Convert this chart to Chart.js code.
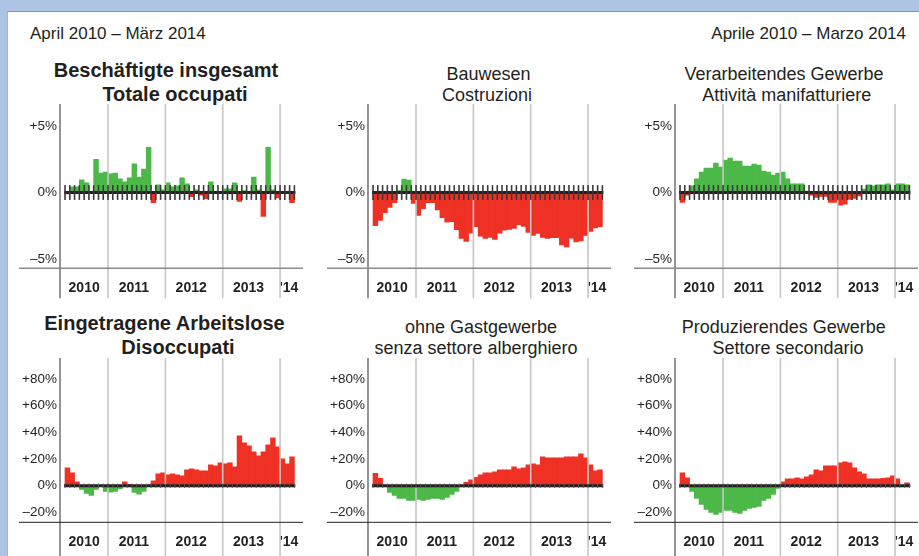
<!DOCTYPE html>
<html>
<head>
<meta charset="utf-8">
<script src="https://cdn.jsdelivr.net/npm/chart.js@4.4.1/dist/chart.umd.min.js"></script>
<style>
html,body{margin:0;padding:0;}
body{width:919px;height:556px;overflow:hidden;background:#aec4e4;position:relative;font-family:"Liberation Sans",Arial,Helvetica,sans-serif;color:#231f20;}
#frame{position:absolute;left:7px;top:11px;width:920px;height:560px;background:#fff;border-top:1px solid #6a9fd4;border-left:1px solid #9cb7dc;box-sizing:border-box;}
.t{position:absolute;white-space:nowrap;line-height:1;width:400px;text-align:center;}
.h{font-size:17px;}
.r{font-size:18px;}
.b{font-size:20px;font-weight:bold;}
canvas{position:absolute;}
</style>
</head>
<body>
<div id="frame"></div>
<div class="t h" style="left:30px;top:24.6px;text-align:left;">April 2010 – März 2014</div>
<div class="t h" style="left:506px;top:24.6px;text-align:right;">Aprile 2010 – Marzo 2014</div>

<div class="t b" style="left:-34px;top:60.4px;">Beschäftigte insgesamt</div>
<div class="t b" style="left:-25px;top:83.8px;">Totale occupati</div>
<div class="t r" style="left:288.5px;top:64.8px;">Bauwesen</div>
<div class="t r" style="left:287px;top:85.8px;">Costruzioni</div>
<div class="t r" style="left:584px;top:64.8px;">Verarbeitendes Gewerbe</div>
<div class="t r" style="left:586.7px;top:85.8px;">Attività manifatturiere</div>

<div class="t b" style="left:-35.5px;top:313.1px;">Eingetragene Arbeitslose</div>
<div class="t b" style="left:-22px;top:337.1px;">Disoccupati</div>
<div class="t r" style="left:281px;top:317.8px;">ohne Gastgewerbe</div>
<div class="t r" style="left:276px;top:338.8px;">senza settore alberghiero</div>
<div class="t r" style="left:583.7px;top:317.8px;">Produzierendes Gewerbe</div>
<div class="t r" style="left:588px;top:338.8px;">Settore secondario</div>

<canvas id="c1" width="300" height="207" style="left:12px;top:93px;"></canvas>
<canvas id="c2" width="300" height="207" style="left:320px;top:93px;"></canvas>
<canvas id="c3" width="300" height="207" style="left:627px;top:93px;"></canvas>
<canvas id="c4" width="300" height="209" style="left:12px;top:347px;"></canvas>
<canvas id="c5" width="300" height="209" style="left:320px;top:347px;"></canvas>
<canvas id="c6" width="300" height="209" style="left:627px;top:347px;"></canvas>

<script>
// ---- categories (April 2010 – March 2014) ----
const months = [
 'Apr 2010','Mai 2010','Jun 2010','Jul 2010','Aug 2010','Sep 2010','Okt 2010','Nov 2010','Dez 2010',
 'Jan 2011','Feb 2011','Mär 2011','Apr 2011','Mai 2011','Jun 2011','Jul 2011','Aug 2011','Sep 2011','Okt 2011','Nov 2011','Dez 2011',
 'Jan 2012','Feb 2012','Mär 2012','Apr 2012','Mai 2012','Jun 2012','Jul 2012','Aug 2012','Sep 2012','Okt 2012','Nov 2012','Dez 2012',
 'Jan 2013','Feb 2013','Mär 2013','Apr 2013','Mai 2013','Jun 2013','Jul 2013','Aug 2013','Sep 2013','Okt 2013','Nov 2013','Dez 2013',
 'Jan 2014','Feb 2014','Mär 2014'
];
// ---- year tick labels (positions in month units) ----
const yearLabels = ['2010','2011','2012','2013',"'14"];
const yearTicks  = [4.0, 14.4, 26.4, 38.4, 46.85];
const yearStarts = [9, 21, 33, 45];   // index of January in months
// ---- value tick labels ----
const yTicksEmp = [-5, 0, 5];
const yTicksUnemp = [-20, 0, 20, 40, 60, 80];

// ---- series: year-over-year change in % ----
const empTotal = [-0.1,0.42,0.42,0.95,0.72,0.1,2.5,1.47,1.54,1.4,1.47,1.02,0.8,1.1,2.15,1.17,1.77,3.4,-0.77,0.57,0.2,0.72,0.42,0.5,1.1,0.65,-0.32,0.2,-0.2,-0.47,0.8,0.05,0.02,0.27,0.27,0.72,-0.67,0.15,0.05,1.17,0.2,-1.8,3.4,0.2,-0.4,0.02,0.02,-0.77];
const construction = [-2.49,-2.1,-1.51,-1.13,-0.76,0.15,1.01,0.94,-0.82,-1.73,-1.21,-0.76,-0.76,-1.3,-1.9,-2.23,-2.2,-2.8,-3.45,-3.67,-3.06,-2.56,-3.29,-3.45,-3.37,-3.52,-3.06,-2.83,-2.78,-2.7,-2.41,-2.55,-3.0,-3.22,-3.07,-3.38,-3.45,-3.4,-3.4,-3.95,-4.1,-3.43,-3.71,-3.64,-3.22,-2.92,-2.67,-2.56];
const manufacturing = [-0.75,-0.2,0.5,1.02,1.54,1.84,1.84,2.21,1.92,2.44,2.59,2.36,2.36,1.99,1.99,2.14,2.06,1.62,1.54,1.32,1.47,1.54,1.02,0.65,0.65,0.65,0.1,-0.2,-0.37,-0.3,-0.3,-0.75,-0.75,-0.95,-0.87,-0.52,-0.45,-0.25,0.25,0.57,0.5,0.57,0.57,0.65,0.2,0.65,0.65,0.57];
const unemployed = [13.5,9.75,3,-2.75,-5.75,-7.25,-2.75,0,-4.25,-4.75,-4.25,-2.25,3,0.75,-5,-6.25,-4.25,0,3.75,9,9.75,8.25,9,8.25,7.5,12,12.75,12,11.25,11.25,15.75,15,17.25,16.5,17.25,14.25,37.5,32.25,30,25.5,22.5,25.5,30.75,36,29.25,20.25,16.5,21.75];
const unemployedNoHotel = [9.25,5.5,0.3,-5,-7.25,-9.5,-9.5,-11,-11,-10.25,-11,-10.25,-9.5,-9.5,-10.25,-8.75,-6.5,-4.25,0.5,2.5,4.5,6.25,8.25,9.75,9.75,10.5,12,12,12,14.25,12.75,13.5,15.75,16.5,15.75,21.75,21,21,21,21,21.75,21.75,21.75,24,21,15.75,11.25,12];
const unemployedSecondary = [9.75,6,-4.25,-9.5,-14,-17.75,-20,-21.5,-20,-18.5,-18.5,-20,-20.75,-18.5,-17,-16.25,-15.5,-11,-9.5,-6.5,-2,3,5.25,5.25,6,5.25,6.75,8.25,12,11.25,15,15,15,17.25,18,17.25,13.5,10.5,9,5.25,5.25,5.25,5.5,6,7.5,5.25,0.3,2.25];

const GREEN = '#4cb848', RED = '#ee3124';
const FF = '"Liberation Sans", Arial, Helvetica, sans-serif';

function fmtPct(v){ return v > 0 ? '+' + v + '%' : (v < 0 ? '–' + (-v) + '%' : '0%'); }

const decor = {
  id: 'decor',
  afterDatasetsDraw(chart, args, o){
    const {ctx, chartArea: ca, scales: {x, y}} = chart;
    const ext = o.extend === 'bottom' ? chart.height : ca.bottom + o.extend;
    ctx.save();
    // year gridlines (drawn over the bars)
    ctx.strokeStyle = '#c6c6c6'; ctx.lineWidth = 1.6;
    yearStarts.forEach(m => {
      const px = x.getPixelForValue(m);
      ctx.beginPath(); ctx.moveTo(px, ca.top); ctx.lineTo(px, ext); ctx.stroke();
    });
    // y axis line
    ctx.strokeStyle = '#4d4d4d'; ctx.lineWidth = 1.2;
    ctx.beginPath(); ctx.moveTo(ca.left, ca.top); ctx.lineTo(ca.left, ext); ctx.stroke();
    // x baseline
    ctx.strokeStyle = o.baseColor; ctx.lineWidth = o.baseWidth;
    ctx.beginPath(); ctx.moveTo(7, ca.bottom); ctx.lineTo(ca.right, ca.bottom); ctx.stroke();
    // zero line
    const y0 = y.getPixelForValue(0);
    ctx.strokeStyle = '#231f20'; ctx.lineWidth = 3;
    ctx.beginPath(); ctx.moveTo(x.getPixelForValue(-0.2), y0); ctx.lineTo(x.getPixelForValue(months.length + 0.2), y0); ctx.stroke();
    // month ticks on zero line
    ctx.strokeStyle = o.tickColor; ctx.lineWidth = o.tickWidth;
    for (let m = 0; m <= months.length; m++) {
      const px = x.getPixelForValue(m);
      ctx.beginPath(); ctx.moveTo(px, y0 - o.tick); ctx.lineTo(px, y0 + o.tick); ctx.stroke();
    }
    ctx.restore();
  }
};

function makeChart(id, values, o){
  return new Chart(document.getElementById(id), {
    type: 'bar',
    data: {
      labels: months,
      datasets: [{
        data: values.map((v, i) => ({x: i + 0.5, y: v})),
        backgroundColor: values.map(v => v >= 0 ? o.pos : o.neg),
        borderWidth: 0, barPercentage: 1, categoryPercentage: 1
      }]
    },
    options: {
      responsive: false, animation: false, devicePixelRatio: 1,
      layout: {padding: {left: 0, right: 9, top: o.padTop, bottom: 0}},
      plugins: {
        legend: {display: false}, tooltip: {enabled: false},
        decor: o.decor
      },
      scales: {
        x: {
          type: 'linear', offset: false, bounds: 'data', min: -1.05, max: 49.8,
          grid: {display: false}, border: {display: false},
          afterBuildTicks: s => { s.ticks = yearTicks.map(v => ({value: v})); },
          afterFit: s => { s.height = o.xh; },
          ticks: {autoSkip: false, maxRotation: 0, minRotation: 0, padding: 3, color: '#231f20',
                  font: {family: FF, size: 14, weight: 'bold'},
                  callback: (v, i) => yearLabels[i]}
        },
        y: {
          type: 'linear', bounds: 'data', min: o.ymin, max: o.ymax,
          grid: {display: false, drawTicks: false}, border: {display: false},
          afterBuildTicks: s => { s.ticks = o.yticks.map(v => ({value: v})); },
          afterFit: s => { s.width = 48; },
          ticks: {padding: 3, color: '#231f20', font: {family: FF, size: 13.5}, callback: v => fmtPct(v)}
        }
      }
    },
    plugins: [decor]
  });
}

const topOpts = {pos: GREEN, neg: RED, padTop: 10.3, xh: 31.7, ymin: -5.70, ymax: 6.65, yticks: yTicksEmp,
  decor: {extend: 30, baseColor: '#8a8a8a', baseWidth: 1.5, tick: 7.4, tickColor: '#3a3a3a', tickWidth: 1.6}};
const botOpts = {pos: RED, neg: GREEN, padTop: 10, xh: 33.7, ymin: -27.4, ymax: 95.7, yticks: yTicksUnemp,
  decor: {extend: 'bottom', baseColor: '#231f20', baseWidth: 1, tick: 2.2, tickColor: '#555', tickWidth: 1}};

makeChart('c1', empTotal, topOpts);
makeChart('c2', construction, topOpts);
makeChart('c3', manufacturing, topOpts);
makeChart('c4', unemployed, botOpts);
makeChart('c5', unemployedNoHotel, botOpts);
makeChart('c6', unemployedSecondary, botOpts);
</script>
</body>
</html>
